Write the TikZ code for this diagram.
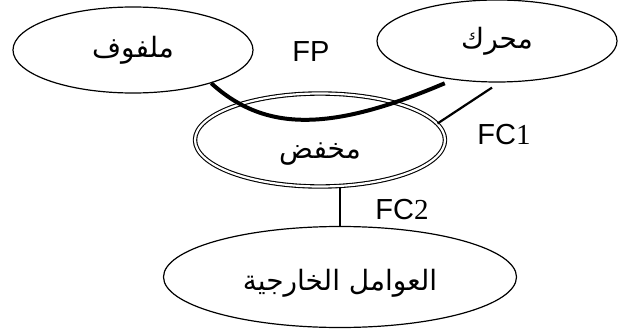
\documentclass[tikz,border=0pt]{standalone}
\usepackage{fontspec}
\setmainfont{Liberation Sans}
\newfontfamily\arabicfont[Script=Arabic]{DejaVu Sans}
\newfontfamily\digitfont{Liberation Serif}
\TeXXeTstate=1
\usetikzlibrary{calc,shapes.geometric,positioning}

\begin{document}
\begin{tikzpicture}[x=1pt, y=-1pt, line join=round,
  part/.style={draw, ellipse, line width=1.2pt, inner sep=0pt,
               font=\fontsize{28}{32}\arabicfont},
  lbl/.style={font=\fontsize{29}{34}\selectfont}]
\useasboundingbox (0,0) rectangle (618,329);

% ---- Components ----
\node[part, minimum width=240pt, minimum height=86pt] (coil) at (133,50) {\beginR ملفوف\endR};
\node[part, minimum width=240pt, minimum height=82pt] (motor) at (497,41) {\beginR محرك\endR};
\node[part, double, double distance=2.2pt, line width=1.1pt, text height=40pt, text depth=4pt,
      minimum width=250pt, minimum height=93pt] (reducer) at (320,140) {\beginR مخفض\endR};
\node[part, text height=30pt, text depth=4pt,
      minimum width=353pt, minimum height=101pt] (env) at (340,277) {\beginR العوامل الخارجية\endR};

% ---- Functions ----
\draw[line width=4pt] (coil.-23) .. controls (265,132) and (330,132) .. ($(motor.219)+(-5,4)$);
\draw[line width=2.2pt] (reducer.8) -- ($(motor.south)+(-5,5)$);
\draw[line width=2.2pt] (env.north |- reducer.south) -- (env.north);

\node[lbl] (fp) at (311,52) {FP};
\node[lbl] (fcone) at (504,135) {FC{\digitfont 1}};
\node[lbl] (fctwo) at (402,210) {FC{\digitfont 2}};

\end{tikzpicture}
\end{document}
